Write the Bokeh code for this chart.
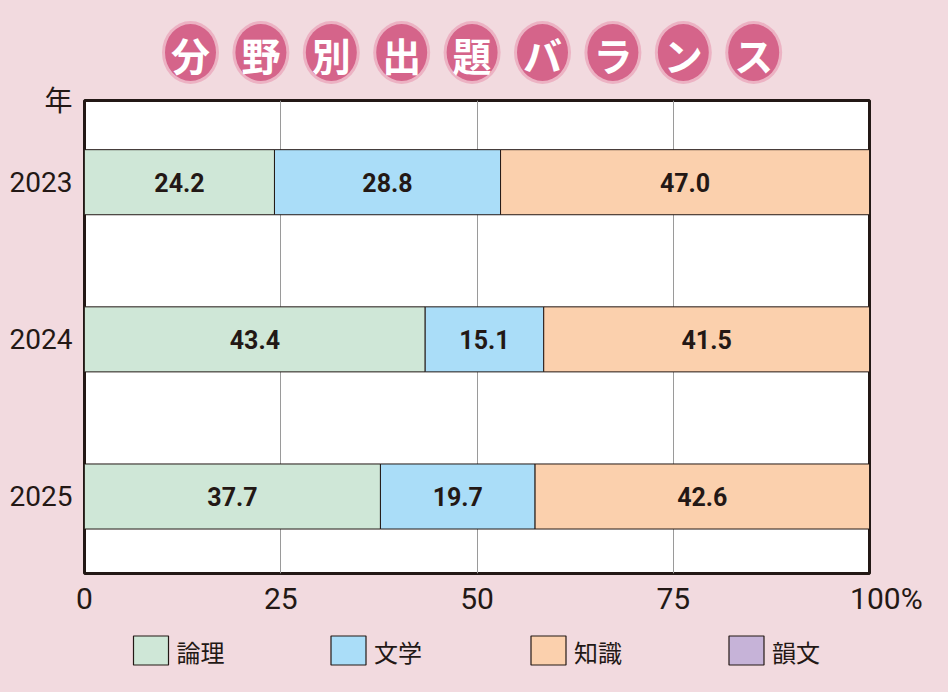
from bokeh.plotting import figure
from bokeh.layouts import column
from bokeh.models import Range1d, FixedTicker, ColumnDataSource
from bokeh.core.properties import value
from bokeh.embed import file_html
from bokeh.resources import INLINE

# ---- data ----
years = ["2023", "2024", "2025"]
logic = [24.2, 43.4, 37.7]      # 論理
literature = [28.8, 15.1, 19.7] # 文学
knowledge = [47.0, 41.5, 42.6]  # 知識
verse = [0.0, 0.0, 0.0]         # 韻文
series_names = ["論理", "文学", "知識", "韻文"]
x_ticks = [0, 25, 50, 75, 100]
y_unit_label = "年"
title_chars = list("分野別出題バランス")

# ---- styles ----
BG = "#F2DADF"
COLORS = ["#CFE7D7", "#AADDF8", "#FBD0AD", "#C6B3D8"]
DARK = "#231815"
NUM_FONT = "Roboto, 'Noto Sans CJK JP', sans-serif"
CJK = "Noto Sans CJK JP"
W = 948
Y_TOP, Y_BOTTOM = -0.52, 2.49

# ---- title figure ----
TH = 84
tf = figure(width=W, height=TH, x_range=Range1d(0, W), y_range=Range1d(TH, 0),
            output_backend="svg", toolbar_location=None, min_border=0,
            background_fill_color=BG, border_fill_color=BG, outline_line_color=None)
tf.frame_align = False
tf.axis.visible = False
tf.grid.visible = False
tx = [190 + 70.4 * i for i in range(len(title_chars))]
ty = [52] * len(title_chars)
tf.ellipse(x=tx, y=ty, width=57, height=63, fill_color="#ECB2C3", line_color=None)
tf.ellipse(x=tx, y=ty, width=51, height=57, fill_color="#D5648A", line_color=None)
tf.text(x=tx, y=[53] * len(title_chars), text=title_chars, text_color="white",
        text_font=value(CJK), text_font_size="39px", text_font_style="bold",
        text_align="center", text_baseline="middle")

# ---- main figure ----
ypos = list(range(len(years)))
src = ColumnDataSource(dict(y=ypos, logic=logic, lit=literature, know=knowledge, verse=verse))
p = figure(width=W, height=538, x_range=Range1d(0, 100), y_range=Range1d(Y_BOTTOM, Y_TOP),
           output_backend="svg", toolbar_location=None,
           min_border_top=16, min_border_bottom=49, min_border_left=84, min_border_right=79,
           background_fill_color="white", border_fill_color=BG)
p.frame_align = False
p.hbar_stack(["logic", "lit", "know", "verse"], y="y", height=0.414, source=src,
             color=None, fill_color=COLORS, line_color=DARK, line_width=1)

# value labels
lab_x, lab_y, lab_t = [], [], []
for i in range(len(years)):
    start = 0.0
    for v in (logic[i], literature[i], knowledge[i]):
        lab_x.append(start + v / 2)
        lab_y.append(ypos[i])
        lab_t.append(f"{v:.1f}")
        start += v
p.text(x=lab_x, y=lab_y, text=lab_t, text_font=value(NUM_FONT), text_font_style="bold",
       text_font_size="25px", text_color=DARK, text_align="center", text_baseline="middle")

p.outline_line_color = DARK
p.outline_line_width = 3
p.ygrid.visible = False
p.xgrid.grid_line_color = "#9a9a9a"
p.xgrid.grid_line_width = 1
p.xaxis.ticker = FixedTicker(ticks=x_ticks)
p.xaxis.major_label_overrides = {100: "\u2007\u2007100%"}
p.yaxis.ticker = FixedTicker(ticks=[Y_TOP] + ypos)
overrides = {i: y for i, y in enumerate(years)}
overrides[Y_TOP] = y_unit_label
p.yaxis.major_label_overrides = overrides
for ax in (p.xaxis, p.yaxis):
    ax.axis_line_color = None
    ax.major_tick_line_color = None
    ax.minor_tick_line_color = None
    ax.major_label_text_font = NUM_FONT
    ax.major_label_text_color = DARK
p.xaxis.major_label_text_font_size = "30px"
p.yaxis.major_label_text_font_size = "28px"
p.xaxis.major_label_standoff = 1
p.yaxis.major_label_standoff = 6

# ---- legend figure ----
LH = 70
lf = figure(width=W, height=LH, x_range=Range1d(0, W), y_range=Range1d(LH, 0),
            output_backend="svg", toolbar_location=None, min_border=0,
            background_fill_color=BG, border_fill_color=BG, outline_line_color=None)
lf.frame_align = False
lf.axis.visible = False
lf.grid.visible = False
bx = [150.5, 348, 548, 746]
lf.rect(x=bx, y=[28] * 4, width=35, height=29, fill_color=COLORS, line_color=DARK, line_width=1.2)
lf.text(x=[b + 25.5 for b in bx], y=[29] * 4, text=series_names, text_font=value(CJK),
        text_font_size="24px", text_color=DARK, text_align="left", text_baseline="middle")

layout = column(tf, p, lf, spacing=0, styles={"background-color": BG})
open("out.html", "w").write(file_html(layout, INLINE))
